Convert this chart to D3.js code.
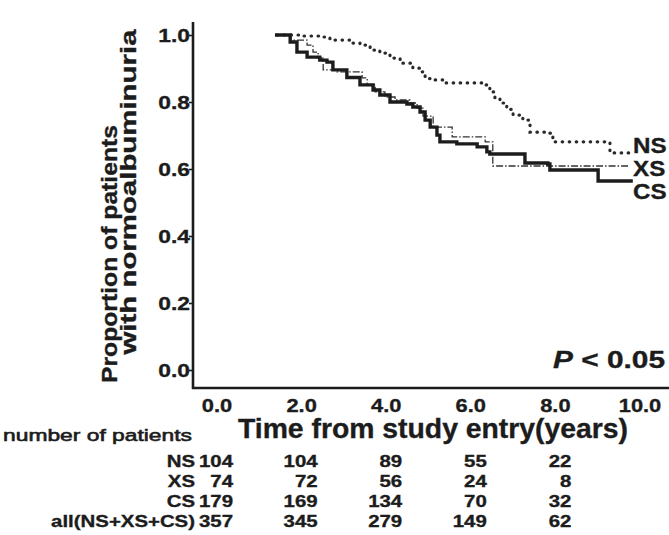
<!DOCTYPE html>
<html>
<head>
<meta charset="utf-8">
<script src="https://cdn.jsdelivr.net/npm/d3@7"></script>
<style>
  body { margin: 0; background: #fff; }
  svg { display: block; }
  text { font-family: "Liberation Sans", Arial, Helvetica, sans-serif; font-weight: bold; fill: #1c1c1c; stroke: #1c1c1c; stroke-width: 0.35px; }
</style>
</head>
<body>
<svg id="chart" width="669" height="535"></svg>
<script>
// Kaplan-Meier steps: [time in years, proportion still normoalbuminuric]
const nsSteps = [
  [1.42, 1.000], [1.96, 0.997], [2.43, 0.994], [2.67, 0.985], [3.14, 0.976],
  [3.38, 0.970], [3.62, 0.955], [3.85, 0.946], [4.09, 0.931], [4.33, 0.916],
  [4.63, 0.901], [4.80, 0.890], [4.92, 0.870], [5.08, 0.866], [5.39, 0.857],
  [6.29, 0.851], [6.45, 0.830], [6.57, 0.812], [6.69, 0.797], [6.85, 0.778],
  [7.00, 0.761], [7.23, 0.746], [7.40, 0.710], [7.87, 0.707], [7.94, 0.681],
  [9.22, 0.678], [9.29, 0.648], [9.76, 0.642]
];
const xsSteps = [
  [1.42, 1.000], [1.73, 0.985], [2.13, 0.970], [2.27, 0.949], [2.39, 0.931],
  [2.51, 0.896], [2.84, 0.890], [3.31, 0.890], [3.43, 0.872], [3.55, 0.851],
  [3.74, 0.830], [3.97, 0.815], [4.21, 0.806], [4.56, 0.797], [4.73, 0.782],
  [4.87, 0.758], [5.11, 0.725], [5.56, 0.722], [5.56, 0.696], [6.29, 0.696],
  [6.34, 0.681], [6.52, 0.648], [6.52, 0.609], [9.76, 0.609]
];
const csSteps = [
  [1.37, 1.000], [1.56, 1.000], [1.73, 0.979], [1.89, 0.949], [2.13, 0.934],
  [2.43, 0.925], [2.60, 0.919], [2.74, 0.896], [3.07, 0.873], [3.38, 0.851],
  [3.69, 0.836], [3.85, 0.821], [4.09, 0.800], [4.49, 0.794], [4.63, 0.785],
  [4.80, 0.770], [4.92, 0.746], [5.04, 0.725], [5.20, 0.701], [5.27, 0.681],
  [5.67, 0.675], [6.15, 0.666], [6.38, 0.651], [6.45, 0.645], [7.28, 0.618],
  [7.82, 0.615], [7.87, 0.597], [9.01, 0.564], [9.83, 0.564]
];

const groupNames = ["NS", "XS", "CS"];
const xTickValues = [0, 2, 4, 6, 8, 10];
const yTickValues = [0, 0.2, 0.4, 0.6, 0.8, 1.0];

// numbers at risk
const riskTimes = [0, 2, 4, 6, 8];
const riskRowLabels = ["NS", "XS", "CS", "all(NS+XS+CS)"];
const riskNS = [104, 104, 89, 55, 22];
const riskXS = [74, 72, 56, 24, 8];
const riskCS = [179, 169, 134, 70, 32];
const riskAll = [357, 345, 279, 149, 62];
const riskRows = [riskNS, riskXS, riskCS, riskAll];

const svg = d3.select("#chart");
const ink = "#1c1c1c";

const x = d3.scaleLinear().domain([0, 10]).range([217, 640]);
const y = d3.scaleLinear().domain([0, 1]).range([370, 35]);

const frameLeft = 193, frameBottom = 388, frameTop = 22, frameRight = 669;

// horizontally widened text helper
function wideText(g, px, py, str, size, anchor, sx) {
  return g.append("text")
    .attr("transform", `translate(${px},${py}) scale(${sx},1)`)
    .attr("text-anchor", anchor)
    .style("font-size", size + "px")
    .text(str);
}

// frame
svg.append("line").attr("x1", frameLeft).attr("x2", frameLeft)
  .attr("y1", frameTop).attr("y2", frameBottom + 1)
  .attr("stroke", ink).attr("stroke-width", 2.6);
svg.append("line").attr("x1", frameLeft - 1).attr("x2", frameRight)
  .attr("y1", frameBottom).attr("y2", frameBottom)
  .attr("stroke", ink).attr("stroke-width", 2.6);

// y axis
const yAxis = svg.append("g")
  .attr("transform", `translate(${frameLeft},0)`)
  .call(d3.axisLeft(y).tickValues(yTickValues).tickFormat(d3.format(".1f"))
    .tickSize(4).tickPadding(0));
yAxis.select(".domain").remove();
yAxis.selectAll(".tick line").attr("stroke", ink).attr("stroke-width", 1.6);
yAxis.selectAll(".tick text").remove();
yTickValues.forEach(v => {
  wideText(svg, 190, y(v) + 7, d3.format(".1f")(v), 19, "end", 1.2);
});

// x axis labels
const xAxis = svg.append("g")
  .attr("transform", `translate(0,${frameBottom})`)
  .call(d3.axisBottom(x).tickValues(xTickValues).tickFormat(d3.format(".1f")).tickSize(0));
xAxis.select(".domain").remove();
xAxis.selectAll(".tick text").remove();
xTickValues.forEach(v => {
  wideText(svg, x(v), 412, d3.format(".1f")(v), 19, "middle", 1.15);
});

// survival curves
const line = d3.line().x(d => x(d[0])).y(d => y(d[1])).curve(d3.curveStepAfter);

svg.append("path").datum(xsSteps).attr("d", line)
  .attr("fill", "none").attr("stroke", "#333").attr("stroke-width", 1.3)
  .attr("stroke-dasharray", "7,2,1.5,2");
svg.append("path").datum(nsSteps).attr("d", line)
  .attr("fill", "none").attr("stroke", "#2a2a2a").attr("stroke-width", 3.2)
  .attr("stroke-linecap", "round").attr("stroke-dasharray", "0.5,6.5");
svg.append("path").datum(csSteps).attr("d", line)
  .attr("fill", "none").attr("stroke", ink).attr("stroke-width", 3.4);

// curve labels
const labelY = { NS: 153, XS: 176, CS: 199 };
groupNames.forEach(n => wideText(svg, 633, labelY[n], n, 22, "start", 1.1));

// p value
const pText = svg.append("text").attr("x", 553).attr("y", 368)
  .style("font-size", "24px").attr("textLength", 112).attr("lengthAdjust", "spacingAndGlyphs");
pText.append("tspan").style("font-style", "italic").text("P");
pText.append("tspan").text(" < 0.05");

// axis titles
svg.append("text").attr("transform", "translate(117,254) rotate(-90)")
  .attr("text-anchor", "middle").style("font-size", "22px")
  .attr("textLength", 258).attr("lengthAdjust", "spacingAndGlyphs")
  .text("Proportion of patients");
svg.append("text").attr("transform", "translate(136,192) rotate(-90)")
  .attr("text-anchor", "middle").style("font-size", "22px")
  .attr("textLength", 325).attr("lengthAdjust", "spacingAndGlyphs")
  .text("with normoalbuminuria");
svg.append("text").attr("x", 238).attr("y", 438)
  .style("font-size", "27px")
  .attr("textLength", 390).attr("lengthAdjust", "spacingAndGlyphs")
  .text("Time from study entry(years)");

// numbers at risk table
svg.append("text").attr("x", 3).attr("y", 441)
  .style("font-size", "17px").style("font-weight", "normal")
  .style("stroke-width", "0.6px")
  .attr("textLength", 189).attr("lengthAdjust", "spacingAndGlyphs")
  .text("number of patients");

const rowY = [467, 487, 507, 527];
riskRows.forEach((row, i) => {
  wideText(svg, 195, rowY[i], riskRowLabels[i], 17, "end", 1.2);
  row.forEach((n, j) => {
    wideText(svg, x(riskTimes[j]) + 16, rowY[i], String(n), 17, "end", 1.2);
  });
});
</script>
</body>
</html>
